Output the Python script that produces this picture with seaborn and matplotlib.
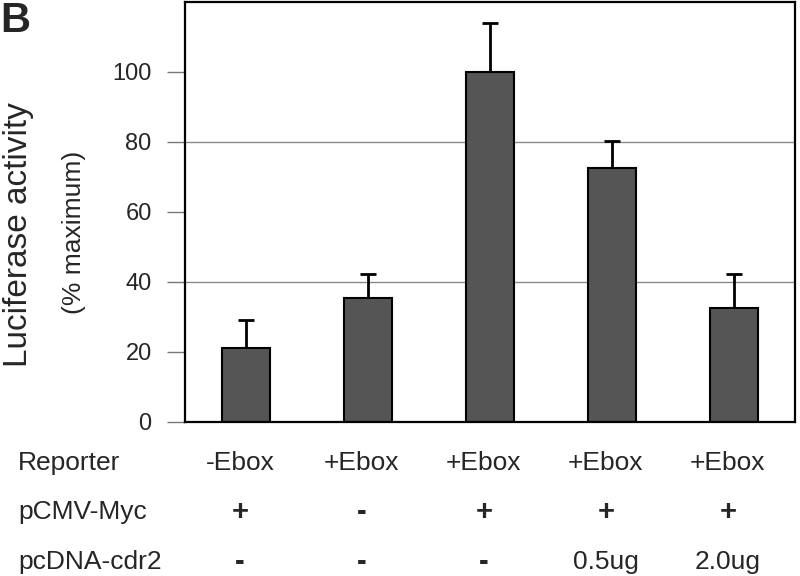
import matplotlib
matplotlib.use("Agg")
import matplotlib.pyplot as plt
import matplotlib.transforms as mtransforms
import seaborn as sns
import pandas as pd
import numpy as np

# ---- data ----
conditions = ["c1", "c2", "c3", "c4", "c5"]
activity = [21.2, 35.5, 100.0, 72.5, 32.7]
error_up = [7.9, 6.7, 14.1, 7.9, 9.5]
reporter = ["-Ebox", "+Ebox", "+Ebox", "+Ebox", "+Ebox"]
pcmv_myc = ["+", "-", "+", "+", "+"]
pcdna_cdr2 = ["-", "-", "-", "0.5ug", "2.0ug"]
row_labels = ["Reporter", "pCMV-Myc", "pcDNA-cdr2"]
yticks = [0, 20, 40, 60, 80, 100]
grid_values = [40, 80]

sns.set_style("white")
plt.rcParams["font.family"] = ["Liberation Sans", "DejaVu Sans"]

fig = plt.figure(figsize=(8, 5.76), dpi=100)
ax = fig.add_axes([185 / 800, 1 - 422 / 576, 610 / 800, 420 / 576])

df = pd.DataFrame({"condition": conditions, "activity": activity})
sns.barplot(data=df, x="condition", y="activity", color="#555555",
            width=0.4, edgecolor="black", linewidth=1.5, errorbar=None,
            saturation=1, ax=ax, zorder=2)

x = np.arange(len(conditions))
ax.errorbar(x, activity, yerr=[np.zeros(len(activity)), error_up], fmt="none",
            ecolor="black", elinewidth=2, capsize=6, capthick=2, zorder=1.5)

for g in grid_values:
    ax.axhline(g, color="#8a8a8a", linewidth=1, zorder=0.5)

ax.set_ylim(0, 120)
ax.set_xlim(-0.5, len(conditions) - 0.5)
ax.set_yticks(yticks)
ax.set_yticklabels([str(v) for v in yticks], fontsize=17)
ax.tick_params(axis="y", direction="out", length=13, width=1, color="#777777",
               pad=11, left=True)
ax.set_xticks([])
ax.set_xlabel("")
ax.set_ylabel("")
for s in ax.spines.values():
    s.set_visible(True)
    s.set_color("black")
    s.set_linewidth(1.6)

# y-axis labels
fig.text(19 / 800, 1 - 235 / 576, "Luciferase activity", rotation=90,
         ha="center", va="center", fontsize=24)
fig.text(74 / 800, 1 - 232 / 576, "(% maximum)", rotation=90,
         ha="center", va="center", fontsize=19)

# panel letter
fig.text(0 / 800, 1 - 21 / 576, "B", fontsize=30, fontweight="bold",
         ha="left", va="center")

# table below
trans = mtransforms.blended_transform_factory(ax.transData, fig.transFigure)
row_y = [1 - 463 / 576, 1 - 512 / 576, 1 - 562 / 576]
rows = [reporter, pcmv_myc, pcdna_cdr2]
for lab, yy in zip(row_labels, row_y):
    fig.text(18 / 800, yy, lab, ha="left", va="center", fontsize=19)
for r, (vals, yy) in enumerate(zip(rows, row_y)):
    for i, v in enumerate(vals):
        bold = v in ("+", "-")
        ax.text(i - 0.05, yy, v, transform=trans, ha="center", va="center",
                fontsize=21 if bold else 19,
                fontweight="bold" if bold else "normal",
                clip_on=False)

fig.savefig("out.png", dpi=100)
